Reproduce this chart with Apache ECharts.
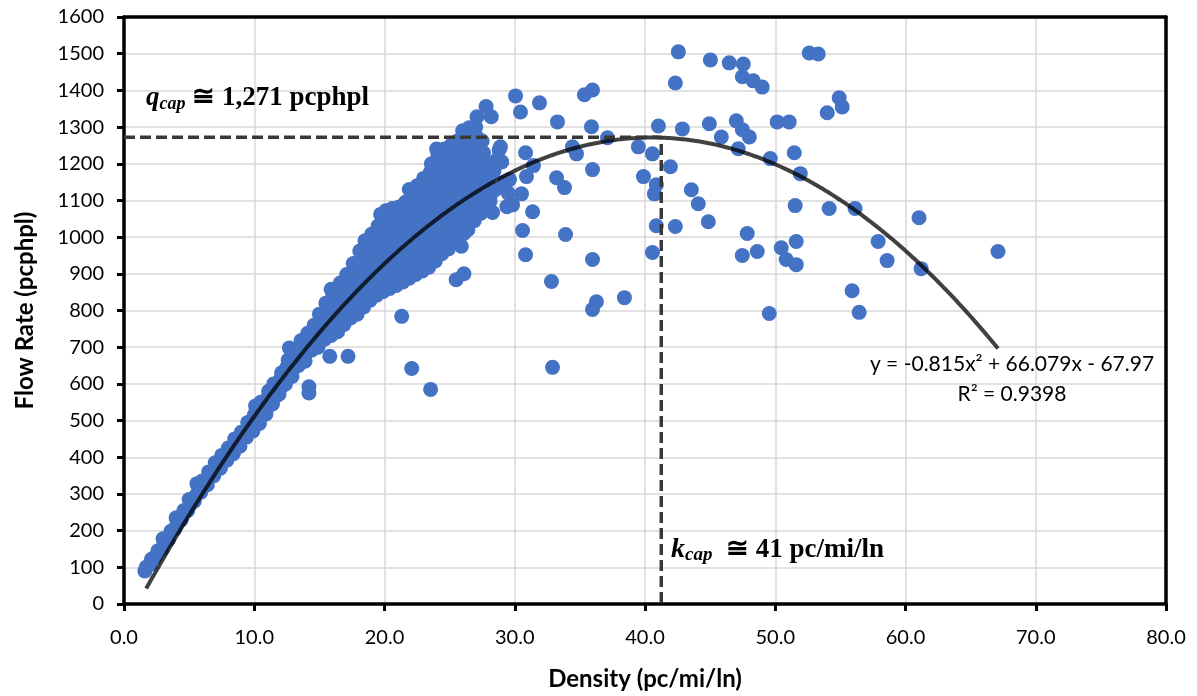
<!DOCTYPE html>
<html>
<head>
<meta charset="utf-8">
<script src="https://cdn.jsdelivr.net/npm/echarts@6/dist/echarts.min.js"></script>
<style>
html,body{margin:0;padding:0;background:#fff;}
#chart{width:1197px;height:696px;}
</style>
</head>
<body>
<div id="chart"></div>
<script>
// ---- Data ----
const xTicks = [0, 10, 20, 30, 40, 50, 60, 70, 80];
const yTicks = [0, 100, 200, 300, 400, 500, 600, 700, 800, 900, 1000, 1100, 1200, 1300, 1400, 1500, 1600];

// Dense cloud of observations (density, flow)
const clusterPoints = [
[1.6,90],[1.7,100],[2.0,108],[2.1,122],[2.4,128],[2.6,145],[2.9,150],[3.1,168],[3.0,178],
[3.4,175],[3.6,198],[3.9,205],[4.1,222],[4.0,235],[4.4,230],[4.6,255],[4.9,255],[5.1,272],[5.0,285],
[5.4,280],[5.6,300],[5.6,328],[5.9,305],[6.1,322],[6.0,335],[6.4,325],[6.6,348],[6.5,360],
[6.9,350],[7.1,370],[7.0,385],[7.4,370],[7.6,392],[7.5,405],[7.9,392],[8.1,410],[8.0,425],
[8.4,410],[8.6,432],[8.5,450],[8.9,430],[9.1,452],[9.0,468],[9.4,455],[9.6,475],[9.5,495],
[9.9,472],[10.1,495],[10.0,515],[10.1,540],[10.4,492],[10.6,515],[10.5,535],[10.5,550],
[10.9,518],[11.1,540],[11.0,560],[11.1,580],[11.4,545],[11.6,565],[11.5,585],[11.5,600],
[11.9,572],[12.1,592],[12.0,612],[12.1,630],[12.4,600],[12.6,622],[12.5,645],[12.6,665],[12.7,698],
[12.9,620],[13.1,645],[13.0,668],[13.1,690],[13.4,650],[13.6,672],[13.5,695],[13.6,718],
[13.9,662],[14.1,688],[14.0,712],[14.1,738],[14.2,575],[14.2,592],
[14.4,692],[14.6,715],[14.5,738],[14.6,760],[14.9,700],[15.1,725],[15.0,750],[15.1,772],[15.0,790],
[15.4,722],[15.6,748],[15.5,772],[15.6,798],[15.5,820],[15.8,675],
[15.9,732],[16.1,760],[16.0,785],[16.1,810],[16.0,835],[15.9,858],
[16.4,742],[16.6,770],[16.5,795],[16.6,822],[16.5,848],[16.6,875],
[16.9,762],[17.1,788],[17.0,815],[17.1,842],[17.0,868],[17.1,898],[17.2,675],
[17.4,780],[17.6,808],[17.5,835],[17.6,862],[17.5,890],[17.6,928],
[17.9,790],[18.1,818],[18.0,845],[18.1,872],[18.0,900],[18.1,930],[18.1,962],
[18.4,810],[18.6,838],[18.5,866],[18.6,895],[18.5,925],[18.6,955],[18.5,990],
[18.9,828],[19.1,858],[19.0,888],[19.1,918],[19.0,948],[19.1,978],[19.0,1008],
[19.4,842],[19.6,872],[19.5,902],[19.6,932],[19.5,962],[19.6,995],[19.5,1030],[19.7,1062],
[19.9,852],[20.1,882],[20.0,912],[20.1,942],[20.0,972],[20.1,1002],[20.0,1035],[20.1,1072],
[20.4,860],[20.6,890],[20.5,920],[20.6,950],[20.5,980],[20.6,1012],[20.5,1045],[20.6,1078],
[20.9,868],[21.1,898],[21.0,928],[21.1,958],[21.0,988],[21.1,1020],[21.0,1052],[21.1,1082],
[21.4,878],[21.6,908],[21.5,938],[21.6,968],[21.5,998],[21.6,1030],[21.5,1062],[21.6,1095],
[21.9,888],[22.1,918],[22.0,948],[22.1,978],[22.0,1010],[22.1,1042],[22.0,1075],[22.1,1105],[21.9,1130],
[22.4,898],[22.6,930],[22.5,960],[22.6,990],[22.5,1020],[22.6,1052],[22.5,1085],[22.6,1115],[22.5,1140],
[22.9,908],[23.1,938],[23.0,970],[23.1,1000],[23.0,1032],[23.1,1065],[23.0,1098],[23.1,1130],[23.0,1160],
[23.4,918],[23.6,950],[23.5,982],[23.6,1015],[23.5,1048],[23.6,1080],[23.5,1112],[23.6,1145],[23.5,1175],[23.6,1200],
[23.9,935],[24.1,968],[24.0,1000],[24.1,1032],[24.0,1065],[24.1,1098],[24.0,1130],[24.1,1162],[24.0,1195],[24.1,1225],[24.0,1240],
[24.4,955],[24.6,988],[24.5,1020],[24.6,1052],[24.5,1085],[24.6,1118],[24.5,1150],[24.6,1182],[24.5,1212],[24.6,1240],
[24.9,968],[25.1,1000],[25.0,1032],[25.1,1065],[25.0,1098],[25.1,1130],[25.0,1162],[25.1,1195],[25.0,1225],[25.1,1250],
[25.4,985],[25.6,1018],[25.5,1050],[25.6,1082],[25.5,1115],[25.6,1148],[25.5,1180],[25.6,1212],[25.5,1240],[25.6,1262],[25.5,884],[26.1,900],
[25.9,975],[26.1,1010],[26.0,1045],[26.1,1078],[26.0,1110],[26.1,1142],[26.0,1175],[26.1,1208],[26.0,1240],[26.1,1268],[26.0,1290],
[26.4,1020],[26.6,1050],[26.5,1082],[26.6,1115],[26.5,1148],[26.6,1180],[26.5,1212],[26.6,1245],[26.5,1275],[26.5,1298],
[26.9,1045],[27.1,1078],[27.0,1110],[27.1,1142],[27.0,1175],[27.1,1208],[27.0,1240],[27.1,1272],[27.0,1300],[27.1,1328],
[27.4,1065],[27.6,1098],[27.5,1130],[27.6,1165],[27.5,1198],[27.6,1230],[27.5,1262],[27.8,1356],
[27.9,1080],[28.1,1110],[28.0,1140],[28.1,1168],[28.0,1200],[28.2,1328],[28.3,1067],[28.1,1097],
[28.5,1129],[28.4,1180],[28.8,1238],[28.6,1210],[29.0,1205],[28.9,1246],[29.4,1083],[29.2,1150],
[29.6,1157],[29.5,1120]
];

// Sparse observations (density, flow)
const scatteredPoints = [
[30.06,1385],[30.44,1341],[31.90,1366],[33.28,1314],[35.35,1388],[35.97,1401],[35.89,1301],[37.12,1271],
[34.43,1246],[34.74,1227],[35.97,1184],[33.21,1162],[33.82,1135],[30.83,1230],[30.90,1165],[31.44,1195],
[29.37,1151],[30.52,1118],[29.83,1088],[31.37,1069],[30.60,1018],[30.83,952],[33.90,1007],[35.97,939],
[32.82,879],[36.27,824],[35.97,803],[38.42,835],[42.33,1420],[42.56,1505],[41.03,1303],[42.87,1295],
[39.49,1246],[40.57,1227],[41.95,1192],[39.88,1165],[40.87,1143],[40.72,1118],[40.87,1031],[42.33,1029],
[40.57,958],[43.56,1129],[44.09,1091],[44.86,1042],[44.94,1309],[45.86,1273],[45.02,1483],[46.47,1475],
[47.55,1472],[47.47,1437],[48.31,1426],[49.00,1409],[47.01,1317],[47.47,1293],[48.01,1273],[47.16,1241],
[50.15,1314],[51.07,1314],[49.62,1214],[51.46,1230],[51.92,1173],[51.53,1086],[47.85,1010],[47.47,950],
[48.62,961],[50.46,971],[50.84,939],[51.61,925],[51.61,988],[49.54,792],[52.61,1502],[53.30,1499],
[53.99,1339],[54.91,1380],[55.14,1355],[54.14,1078],[56.13,1078],[55.90,854],[56.44,795],[57.90,988],
[58.59,936],[61.04,1053],[61.20,914],[67.10,961],[21.32,784],[22.09,642],[23.54,585],[32.90,645]
];

// Polynomial trendline shown on the chart: y = a x^2 + b x + c
const trendCoeffs = [-0.815, 66.079, -67.97];
const trendRange = [1.7, 67.1];

// Capacity reference values
const kCap = 41.25;
const qCap = 1272;

// ---- Build ----
const trendData = [];
for (let x = trendRange[0]; x <= trendRange[1] + 1e-9; x += 0.2) {
  trendData.push([x, trendCoeffs[0]*x*x + trendCoeffs[1]*x + trendCoeffs[2]]);
}
const capLine = [[0, qCap], [kCap, qCap], [kCap, 0]];

const chart = echarts.init(document.getElementById('chart'));
const labelFont = 'Lato';
const frameAxis = {
  axisLine: {show: true, onZero: false, lineStyle: {color: '#000', width: 3.5}},
  axisTick: {show: false}, axisLabel: {show: false}, splitLine: {show: false}
};
chart.setOption({
  animation: false,
  backgroundColor: '#ffffff',
  grid: {left: 124, right: 31, top: 17, bottom: 91},
  xAxis: [{
    type: 'value', min: xTicks[0], max: xTicks[xTicks.length-1], interval: 10,
    name: 'Density (pc/mi/ln)', nameLocation: 'middle', nameGap: 63,
    nameTextStyle: {fontFamily: labelFont, fontWeight: 'bold', fontSize: 24, color: '#000'},
    axisLine: {show: true, onZero: false, lineStyle: {color: '#000', width: 3.5}},
    axisTick: {show: true, length: 7, lineStyle: {color: '#000', width: 3}},
    axisLabel: {fontFamily: labelFont, fontSize: 20, color: '#000', margin: 24, formatter: v => v.toFixed(1)},
    splitLine: {show: true, lineStyle: {color: '#d9d9d9', width: 1.5}}
  }, Object.assign({type: 'value', position: 'top', min: 0, max: 80}, frameAxis)],
  yAxis: [{
    type: 'value', min: yTicks[0], max: yTicks[yTicks.length-1], interval: 100,
    name: 'Flow Rate (pcphpl)', nameLocation: 'middle', nameGap: 87,
    nameTextStyle: {fontFamily: labelFont, fontWeight: 'bold', fontSize: 24, color: '#000'},
    axisLine: {show: true, onZero: false, lineStyle: {color: '#000', width: 3.5}},
    axisTick: {show: true, length: 7, lineStyle: {color: '#000', width: 3}},
    axisLabel: {fontFamily: labelFont, fontSize: 20, color: '#000', margin: 20, formatter: v => String(v)},
    splitLine: {show: true, lineStyle: {color: '#d9d9d9', width: 1.5}}
  }, Object.assign({type: 'value', position: 'right', min: 0, max: 1600}, frameAxis)],
  series: [
    {type: 'scatter', data: clusterPoints.concat(scatteredPoints), symbol: 'circle', symbolSize: 15,
     itemStyle: {color: '#4472C4', opacity: 1}, z: 2},
    {type: 'line', data: trendData, showSymbol: false, smooth: false,
     lineStyle: {color: 'rgba(0,0,0,0.75)', width: 4}, z: 3},
    {type: 'line', data: capLine, showSymbol: false,
     lineStyle: {color: '#383838', width: 3.5, type: [11, 5]}, z: 4}
  ],
  graphic: [
    {type: 'text', left: 146, top: 85, z: 10, style: {
      text: '{q|q}{s|cap}{t| ≅ 1,271 pcphpl}',
      rich: {
        q: {fontFamily: 'Liberation Serif', fontWeight: 'bold', fontStyle: 'italic', fontSize: 27, color: '#000'},
        s: {fontFamily: 'Liberation Serif', fontWeight: 'bold', fontStyle: 'italic', fontSize: 18, color: '#000', padding: [11, 0, 0, 0]},
        t: {fontFamily: 'Liberation Serif', fontWeight: 'bold', fontSize: 27, color: '#000'}
      }}},
    {type: 'text', left: 671, top: 536, z: 10, style: {
      text: '{q|k}{s|cap}{t|  ≅ 41 pc/mi/ln}',
      rich: {
        q: {fontFamily: 'Liberation Serif', fontWeight: 'bold', fontStyle: 'italic', fontSize: 28, color: '#000'},
        s: {fontFamily: 'Liberation Serif', fontWeight: 'bold', fontStyle: 'italic', fontSize: 19, color: '#000', padding: [11, 0, 0, 0]},
        t: {fontFamily: 'Liberation Serif', fontWeight: 'bold', fontSize: 27, color: '#000'}
      }}},
    {type: 'text', x: 1012, y: 364, z: 10, style: {
      text: 'y = -0.815x² + 66.079x - 67.97', fontFamily: labelFont, fontSize: 21, fill: '#000',
      align: 'center', verticalAlign: 'middle'}},
    {type: 'text', x: 1012, y: 394, z: 10, style: {
      text: 'R² = 0.9398', fontFamily: labelFont, fontSize: 21, fill: '#000',
      align: 'center', verticalAlign: 'middle'}}
  ]
});
</script>
</body>
</html>
